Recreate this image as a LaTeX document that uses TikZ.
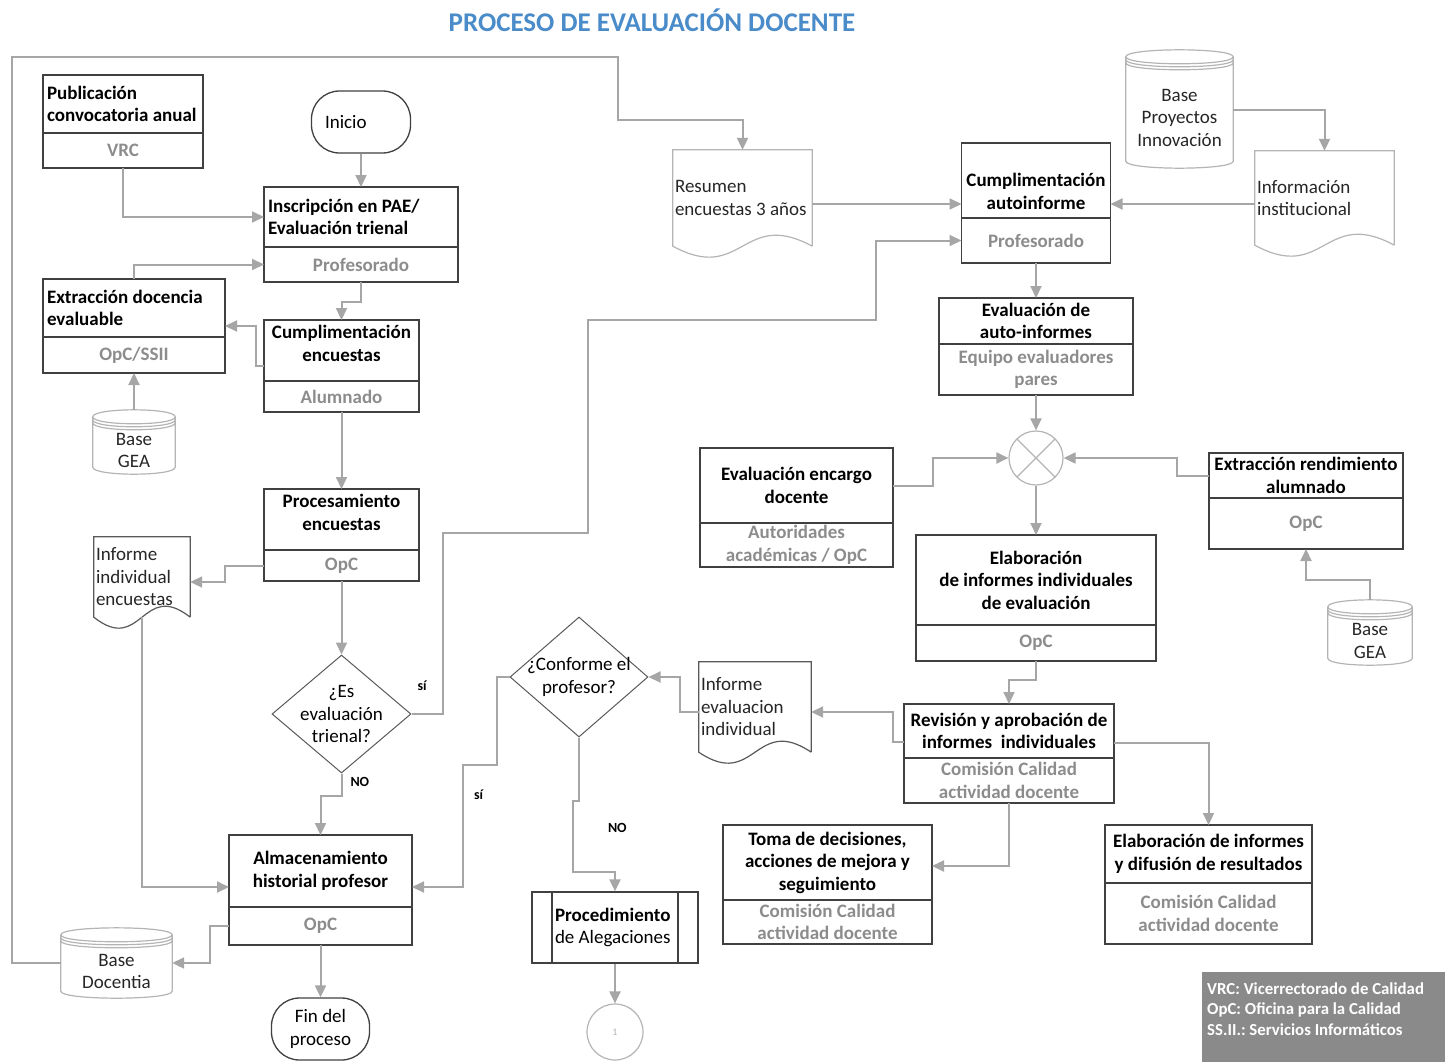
\documentclass[tikz,border=0pt]{standalone}
\usepackage{fontspec}
\setmainfont{Carlito}
\frenchspacing
\usetikzlibrary{positioning,arrows.meta,shapes.geometric}
\definecolor{boxline}{HTML}{404040}
\definecolor{lineg}{HTML}{A6A6A6}
\definecolor{rolegray}{HTML}{8C8C8C}
\definecolor{lightline}{HTML}{B4B4B4}
\definecolor{docdark}{HTML}{595959}
\definecolor{titleblue}{HTML}{4A8BC9}
\definecolor{leggray}{HTML}{8A8A8A}
\tikzset{
  hd/.style 2 args={rectangle, draw=boxline, line width=1.3pt, outer sep=0pt, inner xsep=4pt, inner ysep=2pt, minimum width=#1, minimum height=#2, align=center, font=\bfseries\fontsize{19}{22.5}\selectfont},
  rl/.style 2 args={rectangle, draw=boxline, line width=1.3pt, outer sep=0pt, inner sep=1pt, minimum width=#1, minimum height=#2, align=center, text=rolegray, font=\bfseries\fontsize{19}{22.5}\selectfont},
  term/.style={rectangle, rounded corners=28pt, draw=boxline, line width=1.3pt, font=\fontsize{19}{22.5}\selectfont},
  dec/.style={diamond, draw=docdark, line width=1pt, inner sep=-20pt, align=center, font=\fontsize{19}{22.5}\selectfont},
  pp/.style={rectangle, draw=boxline, line width=1.3pt, font=\fontsize{19}{22.5}\selectfont,
    path picture={\draw[boxline, line width=1.3pt] ([xshift=20pt]path picture bounding box.north west) -- ([xshift=20pt]path picture bounding box.south west) ([xshift=-20pt]path picture bounding box.north east) -- ([xshift=-20pt]path picture bounding box.south east);}},
  doc/.style={rectangle, inner sep=2pt, align=flush left, text=black!85, font=\fontsize{19}{22.5}\selectfont,
    append after command={\pgfextra{
      \draw[#1, line width=1.2pt] (\tikzlastnode.south east) -- (\tikzlastnode.north east) -- (\tikzlastnode.north west) -- (\tikzlastnode.south west)
        .. controls ([yshift=-38pt]\tikzlastnode.south) and ([yshift=38pt]\tikzlastnode.south) .. (\tikzlastnode.south east);
    }}},
  db/.style={rectangle, inner sep=0pt, align=center, text=black!85, font=\fontsize{19}{22.5}\selectfont,
    append after command={\pgfextra{
      \draw[lightline, line width=1.2pt]
        ([yshift=10pt]\tikzlastnode.north west) .. controls ([yshift=19.3pt]\tikzlastnode.north west) and ([yshift=19.3pt]\tikzlastnode.north east) .. ([yshift=10pt]\tikzlastnode.north east)
        -- ([yshift=7pt]\tikzlastnode.south east) .. controls ([yshift=-2.3pt]\tikzlastnode.south east) and ([yshift=-2.3pt]\tikzlastnode.south west) .. ([yshift=7pt]\tikzlastnode.south west)
        -- cycle
        ([yshift=10pt]\tikzlastnode.north west) .. controls ([yshift=0.7pt]\tikzlastnode.north west) and ([yshift=0.7pt]\tikzlastnode.north east) .. ([yshift=10pt]\tikzlastnode.north east)
        ([yshift=7pt]\tikzlastnode.north west) .. controls ([yshift=-2.3pt]\tikzlastnode.north west) and ([yshift=-2.3pt]\tikzlastnode.north east) .. ([yshift=7pt]\tikzlastnode.north east)
        ([yshift=4pt]\tikzlastnode.north west) .. controls ([yshift=-5.3pt]\tikzlastnode.north west) and ([yshift=-5.3pt]\tikzlastnode.north east) .. ([yshift=4pt]\tikzlastnode.north east);
    }}},
  mrg/.style={circle, draw=lightline, line width=1.2pt, minimum size=54pt, inner sep=0pt,
    path picture={\draw[lightline, line width=1.2pt] (path picture bounding box.north west) -- (path picture bounding box.south east) (path picture bounding box.north east) -- (path picture bounding box.south west);}},
  con/.style={circle, draw=lightline, line width=1.2pt, minimum size=56pt, inner sep=0pt, text=lightline, font=\fontsize{10}{12}\selectfont},
  flow/.style={draw=lineg, line width=2pt, -{Triangle[length=12pt,width=11pt]}},
  lbl/.style={inner sep=0pt, font=\bfseries\fontsize{14}{16}\selectfont},
  leg/.style={fill=leggray, text=white, align=flush left, text width=233pt, inner xsep=5pt, inner ysep=0pt, minimum width=243pt, minimum height=90pt, text depth=58pt, font=\bfseries\fontsize{16.8}{20.5}\selectfont}
}
\begin{document}
\begin{tikzpicture}[x=1pt, y=-1pt]
	\useasboundingbox (0,0) rectangle (1445,1062);
	\node[text=titleblue, font=\bfseries\fontsize{27}{32}\selectfont] (titulo) at (652,20) {PROCESO DE EVALUACIÓN DOCENTE};
	% columna izquierda
	\node[hd={160pt}{58pt}, text width=152pt, align=flush left] (pub) at (123,104) {Publicación\\convocatoria anual};
	\node[rl={160pt}{35pt}, below=0pt of pub] (pubr) {VRC};
	\node[term, minimum width=99pt, minimum height=62pt, text width=72pt, align=flush left] (inicio) at (361,122) {Inicio};
	\node[hd={194pt}{60pt}, text width=186pt, align=flush left] (insc) at (361,217) {Inscripción en PAE/\\Evaluación trienal};
	\node[rl={194pt}{35pt}, below=0pt of insc] (inscr) {Profesorado};
	\node[hd={182pt}{58pt}, text width=174pt, align=flush left] (extr) at (134,308) {Extracción docencia\\evaluable};
	\node[rl={182pt}{36pt}, below=0pt of extr] (extrr) {OpC/SSII};
	\node[hd={155pt}{61pt}, text depth=14pt] (cumpl) at (341.5,350.5) {Cumplimentación\\encuestas};
	\node[rl={155pt}{31pt}, below=0pt of cumpl] (cumplr) {Alumnado};
	\node[db, minimum width=82pt, minimum height=47pt] (gea) at (134,450.5) {Base\\GEA};
	\node[hd={155pt}{61pt}, text depth=14pt] (proc) at (341.5,519.5) {Procesamiento\\encuestas};
	\node[rl={155pt}{31pt}, below=0pt of proc] (procr) {OpC};
	\node[doc=docdark, minimum width=96pt, minimum height=80pt, text width=92pt] (infenc) at (142,577) {Informe\\individual\\encuestas};
	\node[dec, minimum width=139pt, minimum height=118pt] (trienal) at (341.5,714) {¿Es\\evaluación\\trienal?};
	\node[hd={183pt}{72pt}] (alm) at (320.5,871) {Almacenamiento\\historial profesor};
	\node[rl={183pt}{38pt}, below=0pt of alm] (almr) {OpC};
	\node[db, minimum width=111pt, minimum height=53pt] (docentia) at (116.5,971.5) {Base\\Docentia};
	\node[term, minimum width=98pt, minimum height=62pt, align=center] (fin) at (320.5,1029) {Fin del\\proceso};
	% centro
	\node[doc=lightline, minimum width=139pt, minimum height=96pt, text width=135pt] (resumen) at (742.5,198) {Resumen\\encuestas 3 años};
	\node[dec, minimum width=138pt, minimum height=120pt] (conforme) at (579,677) {¿Conforme el\\profesor?};
	\node[pp, minimum width=166pt, minimum height=71pt, text width=120pt, align=flush left] (alegac) at (615,927.5) {\textbf{Procedimiento}\\de Alegaciones};
	\node[con] (c1) at (615,1032) {1};
	\node[hd={193pt}{75pt}] (encargo) at (796.5,485.5) {Evaluación encargo\\docente};
	\node[rl={193pt}{44pt}, below=0pt of encargo] (encargor) {Autoridades\\académicas / OpC};
	\node[doc=docdark, minimum width=112pt, minimum height=90pt, text width=108pt] (infeval) at (755,707) {Informe\\evaluacion\\individual};
	\node[hd={209pt}{75pt}] (toma) at (827.5,862.5) {Toma de decisiones,\\acciones de mejora y\\seguimiento};
	\node[rl={209pt}{44pt}, below=0pt of toma] (tomar) {Comisión Calidad\\actividad docente};
	% columna derecha
	\node[hd={149pt}{75pt}, text height=58pt] (auto) at (1036,180.5) {Cumplimentación\\autoinforme};
	\node[rl={149pt}{45pt}, below=0pt of auto] (autor) {Profesorado};
	\node[db, minimum width=107pt, minimum height=101pt] (proyectos) at (1179.5,117.5) {Base\\Proyectos\\Innovación};
	\node[doc=lightline, minimum width=139pt, minimum height=94pt, text width=135pt] (instit) at (1324.5,198) {Información\\institucional};
	\node[hd={194pt}{46pt}] (evalauto) at (1036,321) {Evaluación de\\auto-informes};
	\node[rl={194pt}{51pt}, below=0pt of evalauto] (evalautor) {Equipo evaluadores\\pares};
	\node[mrg] (union) at (1036,458) {};
	\node[hd={194pt}{45pt}] (rend) at (1306,475.5) {Extracción rendimiento\\alumnado};
	\node[rl={194pt}{51pt}, below=0pt of rend] (rendr) {OpC};
	\node[db, minimum width=84pt, minimum height=48pt] (gea2) at (1370,641) {Base\\GEA};
	\node[hd={240pt}{90pt}] (elab) at (1036,580) {Elaboración\\de informes individuales\\de evaluación};
	\node[rl={240pt}{36pt}, below=0pt of elab] (elabr) {OpC};
	\node[hd={210pt}{54pt}] (rev) at (1009,731) {Revisión y aprobación de\\informes\ \ individuales};
	\node[rl={210pt}{45pt}, below=0pt of rev] (revr) {Comisión Calidad\\actividad docente};
	\node[hd={207pt}{58pt}] (difus) at (1208.5,854) {Elaboración de informes\\y difusión de resultados};
	\node[rl={207pt}{61pt}, below=0pt of difus] (difusr) {Comisión Calidad\\actividad docente};
	\node[leg, anchor=north west] (leyenda) at (1202,972) {VRC: Vicerrectorado de Calidad\\OpC: Oficina para la Calidad\\SS.II.: Servicios Informáticos};
	%
	\draw[flow] (inicio.south) -- (insc.north);
	\draw[flow] (pubr.south) |- (insc.west);
	\draw[flow] (extr.north) |- (inscr.west);
	\draw[flow] (inscr.south) -- ++(0,20) -| (cumpl.north);
	\draw[flow] ([yshift=-15pt]cumpl.west) -- ++(-8,0) |- ([yshift=-18pt]extr.east);
	\draw[flow] ([yshift=17pt]gea.north) -- (extrr.south);
	\draw[flow] (cumplr.south) -- (proc.north);
	\draw[flow] (procr.west) -- ++(-39,0) |- ([yshift=-5pt]infenc.east);
	\draw[flow] (procr.south) -- (trienal.north);
	\draw[flow] (trienal.east) node[lbl, above right=22pt and 5pt] {sí} -| (443,533) -| (588,320) -- (876,320) |- (autor.west);
	\draw[flow] (trienal.south) node[lbl, below right=3pt and 8pt] {NO} -- ++(0,22) -| (alm.north);
	\draw[flow] (infenc.south) |- ([yshift=-16pt]alm.west);
	\draw[flow] (almr.west) -- ++(-19,0) |- ([yshift=8.5pt]docentia.east);
	\draw[flow] (almr.south) -- (fin.north);
	\draw[flow] ([yshift=8.5pt]docentia.west) -| (12,57) -| (618,120) -| (resumen.north);
	%
	\draw[flow] ([yshift=-6pt]resumen.east) -- ([yshift=-23.5pt]auto.west);
	\draw[flow] ([yshift=-6pt]instit.west) -- ([yshift=-23.5pt]auto.east);
	\draw[flow] ([yshift=7.5pt]proyectos.east) -| (instit.north);
	\draw[flow] (autor.south) -- (evalauto.north);
	\draw[flow] (evalautor.south) -- (union.north);
	\draw[flow] (encargo.east) -- ++(40,0) |- (union.west);
	\draw[flow] (rend.west) -- ++(-32,0) |- (union.east);
	\draw[flow] ([yshift=17pt]gea2.north) -- ++(0,-20) -| (rendr.south);
	\draw[flow] (union.south) -- (elab.north);
	\draw[flow] (elabr.south) -- ++(0,19) -| (rev.north);
	\draw[flow] ([yshift=-11pt]rev.west) -- ++(-11,0) |- ([yshift=-5pt]infeval.east);
	\draw[flow] ([yshift=-5pt]infeval.west) -- ++(-19,0) |- (conforme.east);
	\draw[flow] (conforme.west) -| (497,765) -- (463,765) node[lbl, below right=24pt and 10pt] {sí} -- (463,887) -- ([yshift=-16pt]alm.east);
	\draw[flow] (conforme.south) -- ++(0,63) node[lbl, below right=22pt and 28pt] {NO} -| (573,872) -| (alegac.north);
	\draw[flow] (revr.south) |- ([yshift=-3.5pt]toma.east);
	\draw[flow] ([yshift=-12pt]rev.east) -| (difus.north);
	\draw[flow] (alegac.south) -- (c1.north);
\end{tikzpicture}
\end{document}
